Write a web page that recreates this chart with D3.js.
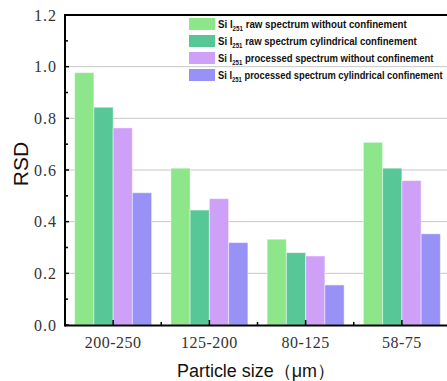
<!DOCTYPE html>
<html><head><meta charset="utf-8">
<script src="https://cdn.jsdelivr.net/npm/d3@7"></script>
<style>body{margin:0;background:#fff;overflow:hidden}svg{display:block}</style>
</head><body>
<script>
const categories = ["200-250", "125-200", "80-125", "58-75"];
const seriesNames = [
  "raw spectrum without confinement",
  "raw spectrum cylindrical confinement",
  "processed spectrum without confinement",
  "processed spectrum cylindrical confinement"
];
const rawWithout = [0.977, 0.607, 0.332, 0.707];
const rawCylindrical = [0.843, 0.445, 0.280, 0.607];
const procWithout = [0.763, 0.489, 0.267, 0.559];
const procCylindrical = [0.512, 0.319, 0.155, 0.353];
const series = [rawWithout, rawCylindrical, procWithout, procCylindrical];
const colors = ["#8de68a", "#58c797", "#cfa0f8", "#9892f6"];
const yTicks = [0, 0.2, 0.4, 0.6, 0.8, 1.0, 1.2];
const yMinor = [0.1, 0.3, 0.5, 0.7, 0.9, 1.1];

(function () {
const W = 447, H = 381;
const svg = d3.select("body").append("svg").attr("width", W).attr("height", H);
const pl = 65, pr = 450, pt = 15, pb = 325;

const x = d3.scaleBand().domain(categories).range([pl, pr]).paddingInner(0.2).paddingOuter(0.1);
const xs = d3.scaleBand().domain(d3.range(series.length)).range([0, x.bandwidth()]);
const y = d3.scaleLinear().domain([0, 1.2]).range([pb, pt]);

// gridlines
svg.append("g").selectAll("line").data(yTicks.filter(d => d > 0 && d < 1.2)).join("line")
  .attr("x1", pl).attr("x2", W).attr("y1", d => y(d)).attr("y2", d => y(d))
  .attr("stroke", "#c8c8c8").attr("stroke-width", 1);

// bars
const g = svg.append("g");
series.forEach((vals, si) => {
  g.append("g").selectAll("rect").data(vals).join("rect")
    .attr("x", (d, i) => x(categories[i]) + xs(si))
    .attr("width", xs.bandwidth())
    .attr("y", d => y(d))
    .attr("height", d => y(0) - y(d))
    .attr("fill", colors[si])
    .attr("stroke", "#ffffff").attr("stroke-opacity", 0.45).attr("stroke-width", 1);
});

// y axis
const yAxis = d3.axisLeft(y).tickValues(yTicks).tickSize(0).tickPadding(8).tickFormat(d3.format(".1f"));
const ya = svg.append("g").attr("transform", `translate(${pl},0)`).call(yAxis);
ya.select(".domain").remove();
ya.selectAll("text").attr("font-family", "Liberation Serif, serif").attr("font-size", 16).attr("fill", "#333")
  .attr("letter-spacing", "1px");
svg.append("g").selectAll("line").data(yTicks).join("line")
  .attr("x1", pl).attr("x2", pl + 4).attr("y1", d => y(d)).attr("y2", d => y(d))
  .attr("stroke", "#000").attr("stroke-width", 1.5);
svg.append("g").selectAll("line").data(yMinor).join("line")
  .attr("x1", pl).attr("x2", pl + 3).attr("y1", d => y(d)).attr("y2", d => y(d))
  .attr("stroke", "#000").attr("stroke-width", 1.5);

// x axis
const xAxis = d3.axisBottom(x).tickSize(0).tickPadding(12);
const xa = svg.append("g").attr("transform", `translate(0,${pb})`).call(xAxis);
xa.select(".domain").remove();
xa.selectAll("text").attr("font-family", "Liberation Serif, serif").attr("font-size", 16).attr("fill", "#333")
  .attr("letter-spacing", "0.5px");
svg.append("g").selectAll("line").data(categories).join("line")
  .attr("x1", d => x(d) + x.bandwidth() / 2).attr("x2", d => x(d) + x.bandwidth() / 2)
  .attr("y1", pb).attr("y2", pb - 5).attr("stroke", "#000").attr("stroke-width", 1.5);
svg.append("g").selectAll("line").data(categories.slice(1)).join("line")
  .attr("x1", d => x(d) - x.step() * x.paddingInner() / 2).attr("x2", d => x(d) - x.step() * x.paddingInner() / 2)
  .attr("y1", pb).attr("y2", pb - 3).attr("stroke", "#000").attr("stroke-width", 1.5);

// frame lines
svg.append("line").attr("x1", pl).attr("x2", W).attr("y1", pt).attr("y2", pt).attr("stroke", "#000").attr("stroke-width", 2);
svg.append("line").attr("x1", pl).attr("x2", W).attr("y1", pb + 0.5).attr("y2", pb + 0.5).attr("stroke", "#000").attr("stroke-width", 2);
svg.append("line").attr("x1", pl).attr("x2", pl).attr("y1", pt - 1).attr("y2", pb + 1.5).attr("stroke", "#000").attr("stroke-width", 2);

// axis titles
svg.append("text").attr("transform", "translate(28,164) rotate(-90)").attr("text-anchor", "middle")
  .attr("font-family", "Liberation Sans, Arial, sans-serif").attr("font-size", 21).attr("fill", "#111").text("RSD");
const xt = svg.append("text").attr("x", 256).attr("y", 377).attr("text-anchor", "middle")
  .attr("font-family", "Liberation Sans, Arial, sans-serif").attr("font-size", 19).attr("fill", "#111")
  .text("Particle size（μm）");
const xtw = xt.node().getComputedTextLength();
if (xtw > 158) xt.attr("font-size", 19 * 158 / xtw);

// legend
const legendWidths = [189, 199, 216, 225];
const lg = svg.append("g");
seriesNames.forEach((nm, i) => {
  const cy = 24 + i * 17;
  lg.append("rect").attr("x", 189).attr("y", cy - 6).attr("width", 26).attr("height", 12).attr("fill", colors[i]);
  const tg = lg.append("g");
  const t = tg.append("text").attr("x", 0).attr("y", 0)
    .attr("font-family", "Liberation Sans, Arial, sans-serif").attr("font-weight", "bold")
    .attr("font-size", 11).attr("fill", "#111");
  t.append("tspan").text("Si I");
  t.append("tspan").attr("font-size", 7).attr("dy", 2.5).text("251");
  t.append("tspan").attr("dy", -2.5).text(" " + nm);
  const w = t.node().getComputedTextLength();
  const k = Math.min(1, legendWidths[i] / w);
  tg.attr("transform", `translate(218,${cy + 4}) scale(${k},1)`);
});
})();
</script>
</body></html>
